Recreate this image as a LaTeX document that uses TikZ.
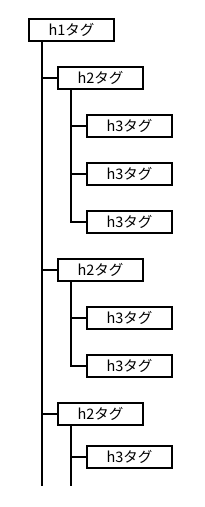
\documentclass[tikz,border=0pt]{standalone}
\usepackage{fontspec}
\newfontfamily\jpfont{Noto Sans CJK JP}
\begin{document}
\begin{tikzpicture}[x=1pt,y=-1pt,
  tagbox/.style={draw=black,line width=2pt,fill=white,minimum width=85pt,minimum height=22pt,inner sep=0pt,font=\jpfont\fontsize{14.5}{16}\selectfont},
  conn/.style={line width=2pt,draw=black}]
\useasboundingbox (0,0) rectangle (204,507);
\node[tagbox] (h1) at (71.5,30) {h1タグ};
\node[tagbox] (a) at (100.5,78) {h2タグ};
\node[tagbox] (a1) at (129.5,126) {h3タグ};
\node[tagbox] (a2) at (129.5,174) {h3タグ};
\node[tagbox] (a3) at (129.5,222) {h3タグ};
\node[tagbox] (b) at (100.5,270) {h2タグ};
\node[tagbox] (b1) at (129.5,318) {h3タグ};
\node[tagbox] (b2) at (129.5,366) {h3タグ};
\node[tagbox] (c) at (100.5,414) {h2タグ};
\node[tagbox] (c1) at (129.5,456.5) {h3タグ};
% trunk 1
\coordinate (t1top) at (42,42);
\coordinate (t1end) at (42,486);
\draw[conn] (t1top) -- (t1end);
\foreach \n in {a,b,c} {\draw[conn] (\n.west) -- (\n.west -| t1top);}
% trunk 2
\coordinate (ta) at (71,90);
\coordinate (tb) at (71,282);
\coordinate (tc) at (71,426);
\coordinate (tcend) at (71,486);
\draw[conn] (ta) |- (a3.west);
\draw[conn] (a1.west) -- (a1.west -| ta);
\draw[conn] (a2.west) -- (a2.west -| ta);
\draw[conn] (tb) |- (b2.west);
\draw[conn] (b1.west) -- (b1.west -| tb);
\draw[conn] (tc) -- (tcend);
\draw[conn] (c1.west) -- (c1.west -| tc);
\end{tikzpicture}
\end{document}
